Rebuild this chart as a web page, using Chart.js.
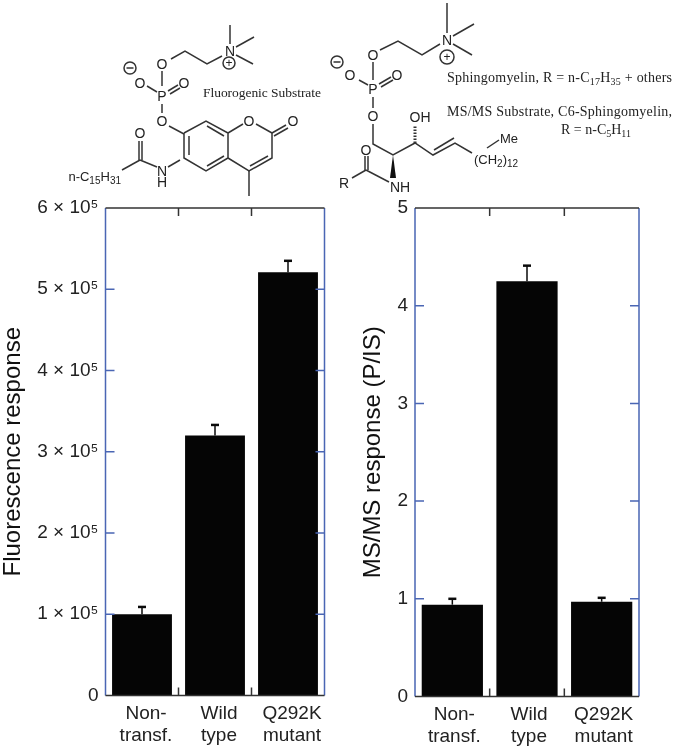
<!DOCTYPE html>
<html lang="en">
<head>
  <meta charset="UTF-8">
  <title>Sphingomyelinase substrate response</title>
  <style>
    html, body { margin: 0; padding: 0; background: #fff; }
    body { position: relative; width: 676px; height: 750px; overflow: hidden; }
    canvas { position: absolute; top: 180px; filter: blur(0.35px); }
    #fluorChart { left: 0; }
    #msChart { left: 340px; }
    #structures { position: absolute; left: 0; top: 0; filter: blur(0.35px); }
    #structures line, #structures circle, #structures polyline { stroke: #333; stroke-width: 1.5; fill: none; }
    #structures .atom { font: 14px 'Liberation Sans', sans-serif; fill: #222; text-anchor: middle; }
    #structures .small { font: 12px 'Liberation Sans', sans-serif; fill: #222; }
    #structures .note { font: 14px 'Liberation Serif', serif; fill: #222; }
  </style>
  <script src="https://cdn.jsdelivr.net/npm/chart.js"></script>
</head>
<body>
  <svg id="structures" width="676" height="205">
    <!-- fluorogenic substrate -->
    <g id="mol1">
      <line x1="230" y1="25" x2="230" y2="44"/><line x1="254" y1="37" x2="236" y2="47"/><line x1="253" y1="64" x2="236" y2="55"/>
      <polyline points="222,56 207,64 185,51 171,59"/>
      <text class="atom" x="230" y="56">N</text>
      <circle cx="229" cy="63" r="6"/><text class="small" x="225.5" y="67">+</text>
      <text class="atom" x="162" y="69">O</text>
      <line x1="162" y1="71" x2="162" y2="86"/>
      <text class="atom" x="162" y="101">P</text>
      <line x1="147" y1="86" x2="157" y2="92"/>
      <text class="atom" x="140" y="88">O</text>
      <circle cx="130" cy="68" r="6"/><line x1="126.5" y1="68" x2="133.5" y2="68"/>
      <line x1="168" y1="91" x2="178" y2="85"/><line x1="170" y1="94" x2="180" y2="88"/>
      <text class="atom" x="184" y="88">O</text>
      <line x1="162" y1="104" x2="162" y2="113"/>
      <text class="atom" x="162" y="126">O</text>
      <line x1="169" y1="126" x2="184" y2="134"/>
      <polyline points="184,133 206,121 228,133 228,158 206,171 184,158 184,133"/>
      <line x1="189" y1="136" x2="189" y2="155"/><line x1="207" y1="126" x2="224" y2="136"/><line x1="207" y1="166" x2="224" y2="156"/>
      <line x1="228" y1="133" x2="243" y2="124"/><line x1="256" y1="124" x2="272" y2="133"/>
      <text class="atom" x="249" y="126">O</text>
      <polyline points="272,133 272,158 249,171 228,158"/>
      <line x1="268" y1="156" x2="250" y2="166"/>
      <line x1="272" y1="133" x2="286" y2="125"/><line x1="274" y1="136" x2="288" y2="128"/>
      <text class="atom" x="293" y="126">O</text>
      <line x1="249" y1="171" x2="249" y2="196"/>
      <line x1="180" y1="160" x2="168" y2="167"/>
      <text class="atom" x="162" y="176">N</text><text class="atom" x="162" y="187">H</text>
      <line x1="157" y1="167" x2="140" y2="160"/>
      <line x1="139" y1="160" x2="139" y2="141"/><line x1="142" y1="160" x2="142" y2="141"/>
      <text class="atom" x="140" y="138">O</text>
      <line x1="140" y1="160" x2="122" y2="170"/>
      <text x="121" y="181" style="font:13px 'Liberation Sans',sans-serif;fill:#222" text-anchor="end">n-C<tspan font-size="10" dy="3">15</tspan><tspan dy="-3">H</tspan><tspan font-size="10" dy="3">31</tspan></text>
      <text class="note" x="203" y="97" textLength="118" style="font-size:13.5px">Fluorogenic Substrate</text>
    </g>
    <!-- sphingomyelin / MS/MS substrate -->
    <g id="mol2">
      <line x1="447" y1="3" x2="447" y2="33"/><line x1="474" y1="24" x2="453" y2="36"/><line x1="472" y1="55" x2="453" y2="44"/>
      <polyline points="440,44 422,55 398,41 380,50"/>
      <text class="atom" x="447" y="45">N</text>
      <circle cx="447" cy="57" r="7"/><text class="small" x="443.5" y="61">+</text>
      <text class="atom" x="373" y="60">O</text>
      <line x1="373" y1="62" x2="373" y2="80"/>
      <text class="atom" x="373" y="94">P</text>
      <line x1="359" y1="80" x2="368" y2="85"/>
      <text class="atom" x="350" y="80">O</text>
      <circle cx="337" cy="62" r="6"/><line x1="333.5" y1="62" x2="340.5" y2="62"/>
      <line x1="379" y1="84" x2="391" y2="77"/><line x1="381" y1="87" x2="393" y2="80"/>
      <text class="atom" x="397" y="80">O</text>
      <line x1="373" y1="97" x2="373" y2="108"/>
      <text class="atom" x="373" y="121">O</text>
      <polyline points="373,124 373,144 393,155 415,143 433,155 455,143 472,153"/>
      <line x1="434" y1="150" x2="454" y2="138"/>
      <text class="atom" x="420" y="122">OH</text>
      <line x1="415" y1="143" x2="415" y2="125" stroke-dasharray="1.5 1.5" style="stroke-width:3"/>
      <polygon points="393,155 390,178 396,178" fill="#111"/>
      <text class="atom" x="400" y="192">NH</text>
      <line x1="389" y1="182" x2="366" y2="170"/>
      <line x1="365" y1="170" x2="365" y2="156"/><line x1="368" y1="170" x2="368" y2="156"/>
      <text class="atom" x="366" y="155">O</text>
      <line x1="366" y1="170" x2="352" y2="178"/>
      <text class="atom" x="344" y="188">R</text>
      <line x1="487" y1="148" x2="499" y2="140"/>
      <text x="500" y="143" style="font:13px 'Liberation Sans',sans-serif;fill:#222">Me</text>
      <text x="474" y="164" style="font:13px 'Liberation Sans',sans-serif;fill:#222">(CH<tspan font-size="10" dy="3">2</tspan><tspan dy="-3">)</tspan><tspan font-size="10" dy="3">12</tspan></text>
      <text class="note" x="447" y="82" textLength="225">Sphingomyelin, R = n-C<tspan font-size="10" dy="3">17</tspan><tspan dy="-3">H</tspan><tspan font-size="10" dy="3">35</tspan><tspan dy="-3"> + others</tspan></text>
      <text class="note" x="447" y="116" textLength="225">MS/MS Substrate, C6-Sphingomyelin,</text>
      <text class="note" x="561" y="134">R = n-C<tspan font-size="10" dy="3">5</tspan><tspan dy="-3">H</tspan><tspan font-size="10" dy="3">11</tspan></text>
    </g>
  </svg>

  <canvas id="fluorChart" width="340" height="570"></canvas>
  <canvas id="msChart" width="336" height="570"></canvas>

  <script>
    const categories = [['Non-', 'transf.'], ['Wild', 'type'], ['Q292K', 'mutant']];

    const fluorValues = [100000, 320000, 521000];
    const fluorErrorTops = [109000, 333000, 535000];
    const fluorTickLabels = ['0', '1 × 10⁵', '2 × 10⁵', '3 × 10⁵', '4 × 10⁵', '5 × 10⁵', '6 × 10⁵'];

    const msValues = [0.94, 4.25, 0.97];
    const msErrorTops = [1.0, 4.41, 1.01];
    const msTickLabels = ['0', '1', '2', '3', '4', '5'];

    const blue = '#4a66b4';
    const dark = '#333';

    // frame, inward ticks and upper error bars, all placed from the scales
    function framePlugin(errorTops) {
      return {
        id: 'frame',
        afterDatasetsDraw(chart) {
          const { ctx, chartArea: a, scales: { x, y } } = chart;
          ctx.save();

          ctx.strokeStyle = '#0a0a0a';
          errorTops.forEach((top, i) => {
            const px = x.getPixelForValue(i);
            const base = y.getPixelForValue(chart.data.datasets[0].data[i]);
            const py = y.getPixelForValue(top);
            ctx.lineWidth = 1.5;
            ctx.beginPath();
            ctx.moveTo(px, base);
            ctx.lineTo(px, py);
            ctx.stroke();
            ctx.lineWidth = 2.5;
            ctx.beginPath();
            ctx.moveTo(px - 4, py);
            ctx.lineTo(px + 4, py);
            ctx.stroke();
          });

          ctx.lineWidth = 1.5;
          ctx.strokeStyle = blue;
          ctx.beginPath();
          ctx.moveTo(a.left, a.top);
          ctx.lineTo(a.left, a.bottom);
          ctx.moveTo(a.right, a.top);
          ctx.lineTo(a.right, a.bottom);
          y.ticks.forEach(t => {
            if (t.value === y.min || t.value === y.max) return;
            const py = y.getPixelForValue(t.value);
            ctx.moveTo(a.left, py);
            ctx.lineTo(a.left + 9, py);
            ctx.moveTo(a.right, py);
            ctx.lineTo(a.right - 9, py);
          });
          ctx.stroke();

          ctx.strokeStyle = dark;
          ctx.beginPath();
          ctx.moveTo(a.left, a.top);
          ctx.lineTo(a.right, a.top);
          ctx.moveTo(a.left, a.bottom);
          ctx.lineTo(a.right, a.bottom);
          for (let i = 0; i < x.ticks.length - 1; i++) {
            const px = (x.getPixelForValue(i) + x.getPixelForValue(i + 1)) / 2;
            ctx.moveTo(px, a.top);
            ctx.lineTo(px, a.top + 8);
            ctx.moveTo(px, a.bottom);
            ctx.lineTo(px, a.bottom - 8);
          }
          ctx.stroke();
          ctx.restore();
        }
      };
    }

    function drawPanel(id, cfg) {
      new Chart(document.getElementById(id), {
        type: 'bar',
        data: {
          labels: categories,
          datasets: [{
            data: cfg.values,
            backgroundColor: '#050505',
            barPercentage: 1,
            categoryPercentage: 0.82
          }]
        },
        plugins: [framePlugin(cfg.errorTops)],
        options: {
          responsive: false,
          animation: false,
          layout: { padding: { top: cfg.top, right: cfg.right, bottom: 0, left: 0 } },
          plugins: { legend: { display: false }, tooltip: { enabled: false } },
          scales: {
            x: {
              grid: { display: false, drawTicks: false },
              border: { display: false },
              afterFit: s => { s.height = cfg.bottom; },
              ticks: {
                color: '#222',
                padding: 7,
                labelOffset: cfg.labelOffset,
                maxRotation: 0,
                font: { family: "'Liberation Sans', Arial, sans-serif", size: 19, lineHeight: 1.16 }
              }
            },
            y: {
              min: 0,
              max: cfg.max,
              grid: { display: false, drawTicks: false },
              border: { display: false },
              afterFit: s => { s.width = cfg.left; },
              title: {
                display: true,
                text: cfg.title,
                color: '#111',
                padding: cfg.titlePadding,
                font: { family: "'Liberation Sans', Arial, sans-serif", size: cfg.titleSize }
              },
              ticks: {
                stepSize: cfg.step,
                color: '#222',
                padding: 7,
                callback: (v, i) => cfg.tickLabels[i],
                font: { family: "'Liberation Sans', Arial, sans-serif", size: 19 }
              }
            }
          }
        }
      });
    }

    drawPanel('fluorChart', {
      values: fluorValues, errorTops: fluorErrorTops, tickLabels: fluorTickLabels,
      max: 600000, step: 100000, title: 'Fluorescence response', titleSize: 24,
      titlePadding: { top: -1, bottom: 0 }, top: 28, right: 15.5, bottom: 54.5, left: 105.5, labelOffset: 4
    });

    drawPanel('msChart', {
      values: msValues, errorTops: msErrorTops, tickLabels: msTickLabels,
      max: 5, step: 1, title: 'MS/MS response (P/IS)', titleSize: 24,
      titlePadding: { top: 19, bottom: 0 }, top: 28, right: 37, bottom: 53.5, left: 75, labelOffset: 2
    });
  </script>
</body>
</html>
